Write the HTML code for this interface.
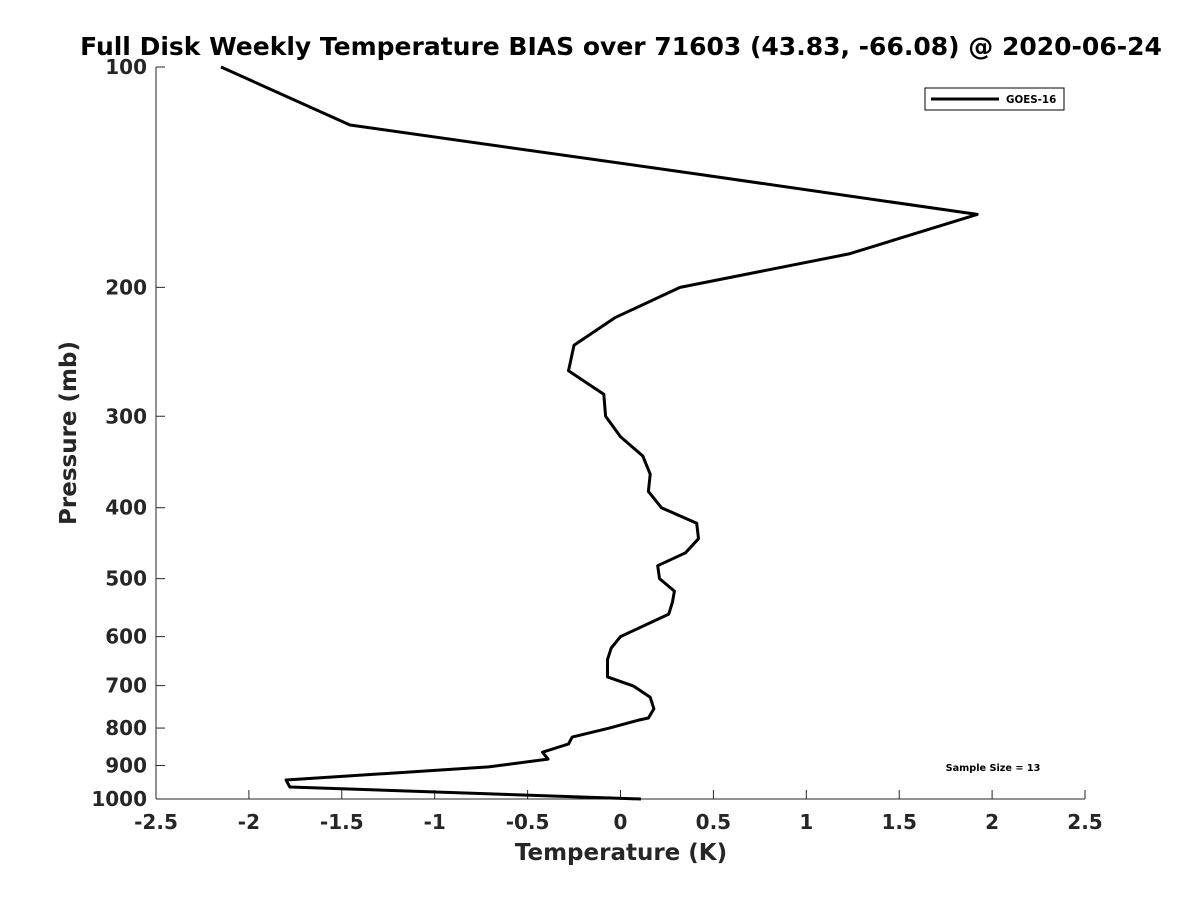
<!DOCTYPE html>
<html><head><meta charset="utf-8"><style>
html,body{margin:0;padding:0;background:#fff;}
svg{display:block;font-family:"DejaVu Sans",sans-serif;}
</style></head><body>
<svg id="chart" width="1200" height="900">
<rect x="0" y="0" width="1200" height="900" fill="#fff"/>
<text x="621" y="55" text-anchor="middle" font-size="25" font-weight="bold" fill="#000">Full Disk Weekly Temperature BIAS over 71603 (43.83, -66.08) @ 2020-06-24</text>
<g id="axes"></g>
<path id="line" fill="none" stroke="#000" stroke-width="3" stroke-linejoin="round"/>
<g>
<rect x="925" y="88" width="139" height="22" fill="#fff" stroke="#000" stroke-width="1"/>
<line x1="931" y1="99" x2="999" y2="99" stroke="#000" stroke-width="3"/>
<text x="1006" y="103" font-size="10.3" font-weight="bold" fill="#000">GOES-16</text>
</g>
<text x="993" y="771" text-anchor="middle" font-size="9.7" font-weight="bold" fill="#000">Sample Size = 13</text>
<text x="621" y="860" text-anchor="middle" font-size="23" font-weight="bold" fill="#262626">Temperature (K)</text>
<text transform="translate(76,433) rotate(-90)" text-anchor="middle" font-size="23" font-weight="bold" fill="#262626">Pressure (mb)</text>
</svg>
<script>
const temps = [-2.15,-1.456,0.41,1.92,1.23,0.32,-0.03,-0.25,-0.28,-0.09,-0.08,0.0,0.12,0.16,0.15,0.22,0.41,0.42,0.35,0.20,0.21,0.29,0.28,0.26,0.0,-0.05,-0.07,-0.07,0.07,0.16,0.18,0.15,0.10,-0.06,-0.26,-0.28,-0.42,-0.39,-0.71,-1.80,-1.78,0.11];
const pressures = [100,120,140,159,180,200,220,240,260,280,300,320,340,360,380,400,420,441,461,480,500,520,538,559,600,622,645,681,701,726,753,775,780,800,823,841,863,882,904,942,963,1000];
const xTicks = [-2.5,-2,-1.5,-1,-0.5,0,0.5,1,1.5,2,2.5];
const yTicks = [100,200,300,400,500,600,700,800,900,1000];
const L=156,R=1085,T=67,B=799;
const xs=v=>L+(v+2.5)/5*(R-L);
const ys=p=>T+Math.log10(p/100)*(B-T);
const ns="http://www.w3.org/2000/svg";
const ax=document.getElementById('axes');
function mk(tag,attrs,parent){const e=document.createElementNS(ns,tag);for(const k in attrs)e.setAttribute(k,attrs[k]);parent.appendChild(e);return e;}
const xl=mk('line',{x1:L,y1:B,x2:R,y2:B,stroke:'#262626','stroke-width':1},ax);


const yl=mk('line',{x1:L,y1:T,x2:L,y2:B,stroke:'#262626','stroke-width':1},ax);


xTicks.forEach(v=>{
  const x=xs(v);
  const t=mk('line',{x1:x,y1:B,x2:x,y2:B-9,stroke:'#262626','stroke-width':1},ax);
  
  
  const tx=mk('text',{x:x,y:B+30,'text-anchor':'middle','font-size':20,'font-weight':'bold',fill:'#262626'},ax);
  tx.textContent=String(v);
  
  
});
yTicks.forEach(p=>{
  const y=ys(p);
  const t=mk('line',{x1:L,y1:y,x2:L+9,y2:y,stroke:'#262626','stroke-width':1},ax);
  
  
  const tx=mk('text',{x:L-9,y:y+7,'text-anchor':'end','font-size':20,'font-weight':'bold',fill:'#262626'},ax);
  tx.textContent=String(p);
  
  
});
document.getElementById('line').setAttribute('d',temps.map((v,i)=>(i?'L':'M')+xs(v).toFixed(1)+','+ys(pressures[i]).toFixed(1)).join(' '));
</script>
</body></html>
